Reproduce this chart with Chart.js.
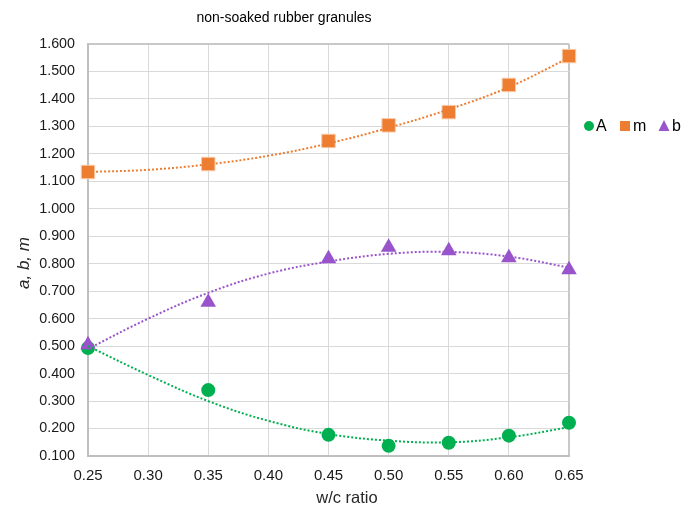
<!DOCTYPE html>
<html><head><meta charset="utf-8">
<script src="https://cdn.jsdelivr.net/npm/chart.js@4"></script>
<style>html,body{margin:0;padding:0;background:#fff}#wrap{width:683px;height:511px}</style>
</head><body><div id="wrap"><canvas id="c" width="683" height="511"></canvas></div>
<script>
const xValues = [0.25, 0.35, 0.45, 0.50, 0.55, 0.60, 0.65];
const seriesA = [0.493, 0.340, 0.177, 0.137, 0.148, 0.174, 0.221];
const seriesM = [1.134, 1.163, 1.247, 1.304, 1.352, 1.451, 1.556];
const seriesB = [0.505, 0.660, 0.818, 0.860, 0.847, 0.822, 0.778];
const trendX = [0.25, 0.30, 0.35, 0.40, 0.45, 0.50, 0.55, 0.60, 0.65];
const trendA = [0.500, 0.395, 0.300, 0.228, 0.180, 0.156, 0.150, 0.168, 0.205];
const trendM = [1.134, 1.142, 1.162, 1.193, 1.238, 1.295, 1.362, 1.443, 1.550];
const trendB = [0.490, 0.600, 0.694, 0.764, 0.808, 0.836, 0.843, 0.826, 0.786];
const yTicks = [0.1,0.2,0.3,0.4,0.5,0.6,0.7,0.8,0.9,1.0,1.1,1.2,1.3,1.4,1.5,1.6];
const xTicks = [0.25,0.30,0.35,0.40,0.45,0.50,0.55,0.60,0.65];

const GREEN = '#00b050', ORANGE = '#ed7d31', PURPLE = '#9954cc';
const pts = (xs, ys) => xs.map((x, i) => ({x, y: ys[i]}));
const FONT = 'Liberation Sans, Arial, sans-serif';

const trend = (data, color) => ({type:'line', data, borderColor: color, borderWidth: 2, borderDash: [2, 2],
  pointRadius: 0, fill: false, tension: 0.4, order: 1, clip: false});
const mark = (data, color, style, r, order, border) => ({type:'scatter', data, backgroundColor: color,
  borderColor: border || color, borderWidth: border ? 1 : 0, pointStyle: style, pointRadius: r, pointHoverRadius: r, order, clip: false});

const overlay = {
  id: 'overlay',
  afterDraw(chart) {
    const ctx = chart.ctx;
    ctx.save();
    ctx.fillStyle = '#000';
    ctx.font = '14px ' + FONT;
    ctx.textAlign = 'center'; ctx.textBaseline = 'middle';
    ctx.fillText('non-soaked rubber granules', 284, 18);
    ctx.fillStyle = '#262626';
    ctx.font = '16.5px ' + FONT;
    ctx.fillText('w/c ratio', 347, 498);
    ctx.save();
    ctx.translate(24, 263); ctx.rotate(-Math.PI/2);
    ctx.font = 'italic 17px ' + FONT;
    ctx.fillText('a, b, m', 0, 0);
    ctx.restore();
    // legend
    ctx.font = '16px ' + FONT;
    ctx.textAlign = 'left';
    const ly = 126;
    ctx.fillStyle = GREEN; ctx.beginPath(); ctx.arc(589, ly, 5, 0, Math.PI*2); ctx.fill();
    ctx.fillStyle = '#000'; ctx.fillText('A', 596, ly + 1);
    ctx.fillStyle = ORANGE; ctx.fillRect(620, ly - 5, 10, 10);
    ctx.fillStyle = '#000'; ctx.fillText('m', 633, ly + 1);
    ctx.fillStyle = PURPLE; ctx.beginPath(); ctx.moveTo(664, ly - 6); ctx.lineTo(669.5, ly + 5); ctx.lineTo(658.5, ly + 5); ctx.closePath(); ctx.fill();
    ctx.fillStyle = '#000'; ctx.fillText('b', 672, ly + 1);
    ctx.restore();
  }
};

new Chart(document.getElementById('c'), {
  data: { datasets: [
    trend(pts(trendX, trendA), GREEN),
    trend(pts(trendX, trendM), ORANGE),
    trend(pts(trendX, trendB), PURPLE),
    mark(pts(xValues, seriesA), GREEN, 'circle', 7, 4),
    mark(pts(xValues, seriesM), ORANGE, 'rect', 9.5, 3, '#f8c9a6'),
    mark(pts(xValues, seriesB), PURPLE, 'triangle', 9, 2),
  ]},
  options: {
    responsive: false, animation: false, devicePixelRatio: 1,
    layout: { padding: { top: 44, right: 114, left: 0, bottom: 0 } },
    plugins: { legend: { display: false }, tooltip: { enabled: false }, title: { display: false } },
    scales: {
      x: { type: 'linear', min: 0.25, max: 0.65,
        afterBuildTicks(s) { s.ticks = xTicks.map(v => ({value: v})); },
        afterFit(s) { s.height = 55; },
        ticks: { callback: v => v.toFixed(2), font: { family: FONT, size: 15 }, color: '#1a1a1a', padding: 11, maxRotation: 0 },
        grid: { color: c => c.index === xTicks.length - 1 ? '#c8c8c8' : '#d9d9d9', lineWidth: c => c.index === xTicks.length - 1 ? 2 : 1, drawTicks: false },
        border: { color: '#bfbfbf', width: 2 } },
      y: { type: 'linear', min: 0.1, max: 1.6,
        afterBuildTicks(s) { s.ticks = yTicks.map(v => ({value: v})); },
        afterFit(s) { s.width = 88; },
        ticks: { callback: v => v.toFixed(3), font: { family: FONT, size: 14.3 }, color: '#1a1a1a', padding: 13 },
        grid: { color: c => c.index === yTicks.length - 1 ? '#c8c8c8' : '#d9d9d9', lineWidth: c => c.index === yTicks.length - 1 ? 2 : 1, drawTicks: false },
        border: { color: '#bfbfbf', width: 2 } }
    }
  },
  plugins: [overlay]
});
</script></body></html>
